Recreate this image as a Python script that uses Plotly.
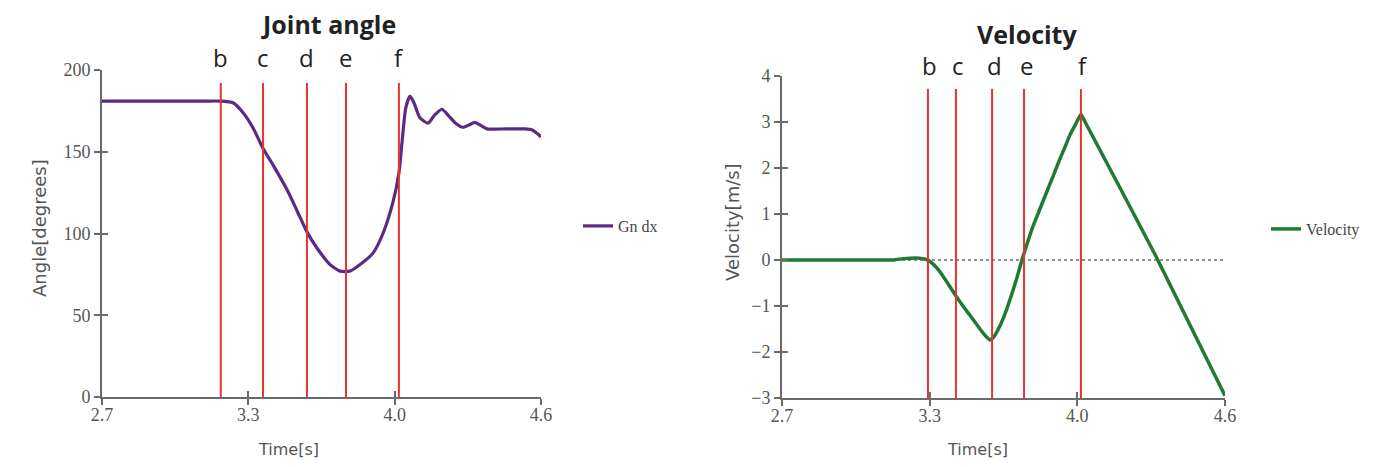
import plotly.graph_objects as go

# ---------------- data ----------------
angle_t = [2.70, 3.00, 3.15, 3.21, 3.267, 3.31, 3.354, 3.397, 3.44, 3.50, 3.557, 3.587,
           3.631, 3.687, 3.73, 3.773, 3.817, 3.873, 3.916, 3.959, 3.985, 4.00, 4.015,
           4.033, 4.05, 4.075, 4.111, 4.14, 4.171, 4.20, 4.23, 4.262, 4.29, 4.314, 4.34,
           4.366, 4.45, 4.53, 4.56, 4.585, 4.60]
angle_deg = [181, 181, 181, 181, 180, 174, 164.5, 152, 142, 127, 110, 101,
             91, 81, 77, 77, 81, 88, 100, 119, 137, 158, 177,
             184, 180, 171, 167.5, 172.5, 176, 172, 167.5, 165, 166.5, 168, 166,
             164, 164, 164, 163.5, 161, 159]

vel_t = [2.70, 3.00, 3.176, 3.22, 3.25, 3.29, 3.326, 3.35, 3.378, 3.41, 3.446, 3.476,
         3.506, 3.549, 3.575, 3.592, 3.61, 3.635, 3.66, 3.685, 3.708, 3.729, 3.753,
         3.777, 3.807, 3.837, 3.865, 3.892, 3.915, 3.935, 3.96, 3.982, 4.00, 4.30, 4.60]
vel_ms = [0.0, 0.0, 0.0, 0.03, 0.04, 0.04, 0.0, -0.1, -0.26, -0.5, -0.78, -1.0,
          -1.2, -1.5, -1.66, -1.74, -1.66, -1.43, -1.12, -0.75, -0.38, 0.0, 0.38,
          0.74, 1.12, 1.5, 1.85, 2.2, 2.47, 2.72, 2.96, 3.17, 3.0, 0.12, -2.95]

angle_events_t = [3.214, 3.397, 3.587, 3.756, 3.985]
vel_events_t = [3.326, 3.446, 3.601, 3.738, 3.982]
event_labels = ["b", "c", "d", "e", "f"]

x_tick_vals = [2.7, 3.3333, 3.9667, 4.6]
x_tick_text = ["2.7", "3.3", "4.0", "4.6"]
angle_tick_vals = [0, 50, 100, 150, 200]
vel_tick_vals = [-3, -2, -1, 0, 1, 2, 3, 4]

# ---------------- styles ----------------
W, H = 1397, 467
PURPLE = "#5a2a86"
GREEN = "#1f7a32"
RED = "#e8322c"
AXIS = "#6a6a6a"
TXT = "#555555"
SERIF = "Liberation Serif, Times New Roman, serif"
SANS = "DejaVu Sans, Arial, sans-serif"
TITLE_FONT = "Open Sans, Arial, sans-serif"

def px_x(p):
    return p / W

def px_y(p):
    return 1 - p / H

x1_dom = [px_x(102), px_x(541)]
y1_dom = [px_y(397), px_y(70)]
x2_dom = [px_x(782), px_x(1225)]
y2_dom = [px_y(398), px_y(76)]

fig = go.Figure()

# zero reference line on velocity plot
fig.add_trace(go.Scatter(x=[vel_t[0], vel_t[-1]], y=[0, 0], mode="lines",
                         line=dict(color="#222222", width=1.2, dash="3px,3px"),
                         xaxis="x2", yaxis="y2", showlegend=False, hoverinfo="skip"))

fig.add_trace(go.Scatter(x=angle_t, y=angle_deg, mode="lines", name="Gn dx",
                         line=dict(color=PURPLE, width=3.2, shape="spline", smoothing=0.6),
                         xaxis="x", yaxis="y", legend="legend"))
fig.add_trace(go.Scatter(x=vel_t, y=vel_ms, mode="lines", name="Velocity",
                         line=dict(color=GREEN, width=3.5, shape="spline", smoothing=0.4),
                         xaxis="x2", yaxis="y2", legend="legend2"))

# event lines
ANGLE_LINE_TOP = 192
VEL_LINE_TOP = 3.72
shapes = []
for t in angle_events_t:
    shapes.append(dict(type="line", xref="x", yref="y", x0=t, x1=t, y0=0, y1=ANGLE_LINE_TOP,
                       line=dict(color=RED, width=2)))
for t in vel_events_t:
    shapes.append(dict(type="line", xref="x2", yref="y2", x0=t, x1=t, y0=-3, y1=VEL_LINE_TOP,
                       line=dict(color=RED, width=2)))

annotations = []
for t, lab in zip(angle_events_t, event_labels):
    annotations.append(dict(x=t, y=px_y(57), xref="x", yref="paper", text=lab, showarrow=False,
                            font=dict(family=TITLE_FONT, size=24, color="#222222"),
                            xanchor="center", yanchor="middle"))
for t, lab in zip(vel_events_t, event_labels):
    annotations.append(dict(x=t, y=px_y(66), xref="x2", yref="paper", text=lab, showarrow=False,
                            font=dict(family=TITLE_FONT, size=24, color="#222222"),
                            xanchor="center", yanchor="middle", xshift=2))

# titles
annotations.append(dict(x=px_x(328), y=px_y(24), xref="paper", yref="paper", text="<b>Joint angle</b>",
                        showarrow=False, font=dict(family=TITLE_FONT, size=25, color="#222222"),
                        xanchor="center", yanchor="middle"))
annotations.append(dict(x=px_x(1027), y=px_y(34), xref="paper", yref="paper", text="<b>Velocity</b>",
                        showarrow=False, font=dict(family=TITLE_FONT, size=25, color="#222222"),
                        xanchor="center", yanchor="middle"))
# axis titles
annotations.append(dict(x=px_x(288), y=px_y(449), xref="paper", yref="paper", text="Time[s]",
                        showarrow=False, font=dict(family=SANS, size=16, color=TXT),
                        xanchor="center", yanchor="middle"))
annotations.append(dict(x=px_x(977), y=px_y(449), xref="paper", yref="paper", text="Time[s]",
                        showarrow=False, font=dict(family=SANS, size=16, color=TXT),
                        xanchor="center", yanchor="middle"))
annotations.append(dict(x=px_x(39), y=px_y(228), xref="paper", yref="paper", text="Angle[degrees]",
                        showarrow=False, textangle=-90, font=dict(family=SANS, size=18, color=TXT),
                        xanchor="center", yanchor="middle"))
annotations.append(dict(x=px_x(732), y=px_y(222), xref="paper", yref="paper", text="Velocity[m/s]",
                        showarrow=False, textangle=-90, font=dict(family=SANS, size=18, color=TXT),
                        xanchor="center", yanchor="middle"))

tickfont = dict(family=SERIF, size=18, color=TXT)

def main_x(dom, anchor):
    return dict(domain=dom, anchor=anchor, range=[2.7, 4.6], tickmode="array",
                tickvals=x_tick_vals, ticktext=x_tick_text, ticks="outside", ticklen=6,
                tickwidth=1.5, tickcolor=AXIS, showline=True, linecolor=AXIS, linewidth=2,
                showgrid=False, zeroline=False, tickfont=tickfont, fixedrange=True,
                automargin=False, ticklabelstandoff=-6)

def main_y(dom, anchor, rng, vals):
    return dict(domain=dom, anchor=anchor, range=rng, tickmode="array", tickvals=vals,
                ticks="outside", ticklen=6, tickwidth=1.5, tickcolor=AXIS, showline=True,
                linecolor=AXIS, linewidth=2, showgrid=False, zeroline=False, tickfont=tickfont,
                fixedrange=True, automargin=False)

def over_x(over, anchor):
    return dict(overlaying=over, anchor=anchor, range=[2.7, 4.6], tickmode="array",
                tickvals=x_tick_vals, ticks="inside", ticklen=6, tickwidth=1.5, tickcolor=AXIS,
                showticklabels=False, showline=False, showgrid=False, zeroline=False,
                automargin=False)

def over_y(over, anchor, rng, vals):
    return dict(overlaying=over, anchor=anchor, range=rng, tickmode="array", tickvals=vals,
                ticks="inside", ticklen=6, tickwidth=1.5, tickcolor=AXIS,
                showticklabels=False, showline=False, showgrid=False, zeroline=False,
                automargin=False)

# invisible traces so overlay axes get drawn
fig.add_trace(go.Scatter(x=[2.7], y=[0], mode="markers", marker=dict(opacity=0),
                         xaxis="x3", yaxis="y3", showlegend=False, hoverinfo="skip"))
fig.add_trace(go.Scatter(x=[2.7], y=[0], mode="markers", marker=dict(opacity=0),
                         xaxis="x4", yaxis="y4", showlegend=False, hoverinfo="skip"))

legend_common = dict(font=dict(family=SERIF, size=16, color="#444444"), bgcolor="rgba(0,0,0,0)",
                     itemwidth=30, xanchor="left", yanchor="middle")

fig.update_layout(
    width=W, height=H,
    margin=dict(l=0, r=0, t=0, b=0, autoexpand=False),
    paper_bgcolor="white", plot_bgcolor="white",
    xaxis=main_x(x1_dom, "y"),
    yaxis=main_y(y1_dom, "x", [0, 200], angle_tick_vals),
    xaxis2=main_x(x2_dom, "y2"),
    yaxis2=main_y(y2_dom, "x2", [-3, 4], vel_tick_vals),
    xaxis3=over_x("x", "y3"),
    yaxis3=over_y("y", "x3", [0, 200], angle_tick_vals),
    xaxis4=over_x("x2", "y4"),
    yaxis4=over_y("y2", "x4", [-3, 4], vel_tick_vals),
    legend=dict(x=px_x(578), y=px_y(226), **legend_common),
    legend2=dict(x=px_x(1266), y=px_y(229), **legend_common),
    shapes=shapes,
    annotations=annotations,
    showlegend=True,
)

fig.write_html("out.html")
